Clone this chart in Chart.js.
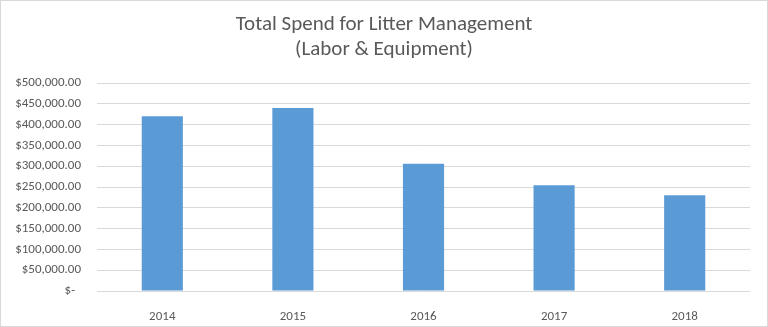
<!DOCTYPE html>
<html>
<head>
<meta charset="utf-8">
<script src="https://cdn.jsdelivr.net/npm/chart.js@4"></script>
<style>
html,body{margin:0;padding:0;background:#fff;}
#wrap{width:768px;height:327px;position:relative;}
</style>
</head>
<body>
<div id="wrap"><canvas id="c" width="768" height="327"></canvas></div>
<script>
const categories = ["2014", "2015", "2016", "2017", "2018"];
const spend = [420000, 440000, 306000, 254000, 230000];
const yTicks = [0, 50000, 100000, 150000, 200000, 250000, 300000, 350000, 400000, 450000, 500000];
const titleLines = ["Total Spend for Litter Management", "(Labor & Equipment)"];

const FONT = "Carlito, Calibri, Lato, sans-serif";
const TXT = "#595959";

function fmt(v){
  if (v === 0) return "$-  ";
  return "$" + v.toLocaleString("en-US", {minimumFractionDigits:2, maximumFractionDigits:2});
}

const deco = {
  id: "deco",
  afterDraw(chart){
    const ctx = chart.ctx;
    ctx.save();
    ctx.fillStyle = TXT;
    ctx.font = "21px " + FONT;
    ctx.textAlign = "center";
    ctx.textBaseline = "middle";
    ctx.fillText(titleLines[0], 384, 25);
    ctx.fillText(titleLines[1], 384, 50);
    ctx.strokeStyle = "#d9d9d9";
    ctx.lineWidth = 1;
    ctx.strokeRect(0.5, 0.5, 767, 326);
    ctx.restore();
  }
};

new Chart(document.getElementById("c"), {
  type: "bar",
  data: {
    labels: categories,
    datasets: [{
      data: spend,
      backgroundColor: "#5b9bd5",
      borderWidth: 0,
      categoryPercentage: 1,
      barPercentage: 0.315
    }]
  },
  options: {
    responsive: false,
    animation: false,
    devicePixelRatio: 1,
    layout: { padding: { top: 83, right: 18, bottom: 0, left: 0 } },
    plugins: { legend: { display: false }, title: { display: false }, tooltip: { enabled: false } },
    scales: {
      x: {
        grid: { display: false },
        border: { display: false },
        ticks: { color: TXT, font: { family: FONT, size: 13 }, padding: 10 },
        afterFit(s){ s.height = 36; }
      },
      y: {
        min: 0, max: 500000,
        afterBuildTicks(s){ s.ticks = yTicks.map(v => ({ value: v })); },
        grid: { color: "#d9d9d9", drawTicks: false },
        border: { display: false },
        ticks: { color: TXT, font: { family: FONT, size: 13 }, padding: 16, callback: v => fmt(v) },
        afterFit(s){ s.width = 97; }
      }
    }
  },
  plugins: [deco]
});
</script>
</body>
</html>
